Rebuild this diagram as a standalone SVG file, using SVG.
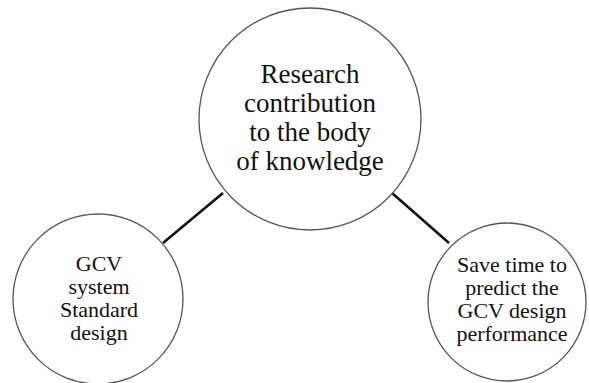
<svg xmlns="http://www.w3.org/2000/svg" width="589" height="383" viewBox="0 0 589 383">
<style>
.c{fill:#fff;stroke:#555;stroke-width:1.3}
.t{font-family:"Liberation Serif","Times New Roman",serif;fill:#111;text-anchor:middle}
.big{font-size:27px}
.sm{font-size:22px}
.l{stroke:#111;stroke-width:2.6;fill:none}
</style>
<rect width="589" height="383" fill="#fff"/>
<g id="connectors">
<line class="l" x1="163" y1="243" x2="223" y2="193"/>
<line class="l" x1="392" y1="193" x2="449" y2="243"/>
</g>
<g id="center">
<circle class="c" cx="310" cy="119" r="111"/>
<text class="t big" x="310" y="83">Research</text>
<text class="t big" x="310" y="112">contribution</text>
<text class="t big" x="310" y="141">to the body</text>
<text class="t big" x="310" y="170">of knowledge</text>
</g>
<g id="left">
<circle class="c" cx="98" cy="299" r="85"/>
<text class="t sm" x="99" y="271">GCV</text>
<text class="t sm" x="99" y="294">system</text>
<text class="t sm" x="99" y="317">Standard</text>
<text class="t sm" x="99" y="340">design</text>
</g>
<g id="right">
<circle class="c" cx="507" cy="302" r="79"/>
<text class="t sm" x="512" y="272">Save time to</text>
<text class="t sm" x="512" y="295">predict the</text>
<text class="t sm" x="512" y="318">GCV design</text>
<text class="t sm" x="512" y="341">performance</text>
</g>
</svg>
